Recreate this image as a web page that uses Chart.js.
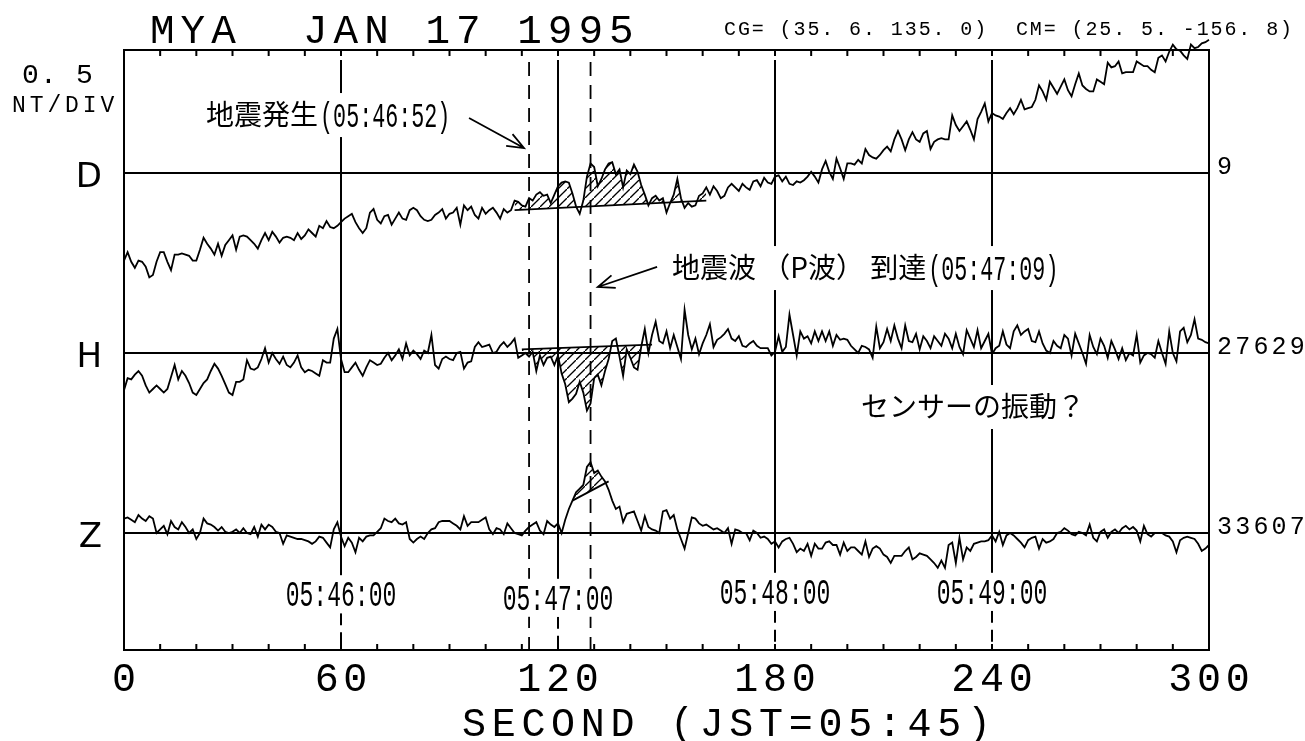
<!DOCTYPE html>
<html lang="ja">
<head>
<meta charset="utf-8">
<title>MYA JAN 17 1995</title>
<script src="https://cdn.jsdelivr.net/npm/chart.js@4.4.1/dist/chart.umd.min.js"></script>
<style>
  html, body { margin: 0; padding: 0; background: #fff; }
  .box { width: 1305px; height: 741px; }
</style>
</head>
<body>
<div class="box"><canvas id="magChart"></canvas></div>
<script>
// deviation from each trace's baseline in nT, one sample per second from 05:45:00 (t = 0..300)
const dD = [
  -0.73,-0.66,-0.74,-0.79,-0.73,-0.74,-0.78,-0.87,-0.85,-0.74,
  -0.66,-0.66,-0.74,-0.81,-0.68,-0.68,-0.67,-0.68,-0.69,-0.73,
  -0.73,-0.64,-0.54,-0.59,-0.63,-0.68,-0.59,-0.69,-0.60,-0.56,
  -0.52,-0.64,-0.53,-0.52,-0.53,-0.56,-0.59,-0.63,-0.56,-0.50,
  -0.56,-0.49,-0.53,-0.58,-0.54,-0.53,-0.54,-0.56,-0.50,-0.55,
  -0.52,-0.47,-0.50,-0.53,-0.44,-0.46,-0.40,-0.45,-0.46,-0.44,
  -0.41,-0.38,-0.36,-0.34,-0.41,-0.46,-0.50,-0.46,-0.33,-0.30,
  -0.39,-0.42,-0.36,-0.35,-0.43,-0.38,-0.33,-0.38,-0.39,-0.31,
  -0.29,-0.31,-0.36,-0.39,-0.40,-0.39,-0.35,-0.33,-0.30,-0.38,
  -0.34,-0.33,-0.29,-0.43,-0.27,-0.31,-0.28,-0.35,-0.38,-0.29,
  -0.34,-0.31,-0.29,-0.33,-0.38,-0.30,-0.33,-0.31,-0.23,-0.24,
  -0.27,-0.28,-0.21,-0.23,-0.18,-0.16,-0.19,-0.18,-0.25,-0.18,
  -0.11,-0.08,-0.07,-0.08,-0.17,-0.28,-0.34,-0.23,-0.03,0.08,
  0.05,-0.11,-0.05,0.03,0.08,0.09,-0.01,0.03,-0.12,0.02,
  -0.01,0.07,0.01,-0.10,-0.18,-0.27,-0.21,-0.19,-0.23,-0.21,
  -0.33,-0.25,-0.18,-0.05,-0.21,-0.29,-0.25,-0.28,-0.27,-0.19,
  -0.17,-0.12,-0.18,-0.11,-0.15,-0.21,-0.19,-0.12,-0.09,-0.12,
  -0.15,-0.09,-0.12,-0.14,-0.07,-0.06,-0.11,-0.04,-0.08,-0.09,
  -0.03,-0.02,-0.07,-0.03,-0.09,-0.10,-0.07,-0.08,-0.06,-0.03,
  0.01,-0.03,-0.08,0.03,0.10,0.01,-0.05,0.12,0.04,-0.05,
  0.08,0.08,0.07,0.11,0.08,0.20,0.15,0.13,0.12,0.15,
  0.19,0.22,0.18,0.28,0.35,0.28,0.19,0.28,0.34,0.28,
  0.26,0.33,0.35,0.20,0.26,0.28,0.29,0.28,0.28,0.48,
  0.40,0.35,0.39,0.43,0.36,0.28,0.45,0.51,0.58,0.43,
  0.50,0.48,0.47,0.45,0.50,0.54,0.49,0.54,0.61,0.53,
  0.54,0.55,0.61,0.73,0.68,0.61,0.76,0.71,0.66,0.72,
  0.78,0.69,0.64,0.74,0.83,0.73,0.70,0.68,0.68,0.78,
  0.76,0.74,0.92,0.88,0.89,0.93,0.83,0.84,0.84,0.84,
  0.93,0.91,0.89,0.89,0.86,0.84,0.96,0.98,0.93,1.01,
  1.07,1.03,1.02,0.98,0.95,1.07,1.04,1.05,1.08,1.09,
  1.11
];
const dH = [
  -0.31,-0.21,-0.22,-0.18,-0.15,-0.19,-0.27,-0.33,-0.30,-0.27,
  -0.30,-0.33,-0.30,-0.20,-0.10,-0.22,-0.15,-0.19,-0.25,-0.33,
  -0.35,-0.30,-0.25,-0.22,-0.15,-0.09,-0.13,-0.19,-0.26,-0.33,
  -0.35,-0.24,-0.24,-0.22,-0.06,-0.13,-0.14,-0.12,-0.05,0.04,
  -0.08,0.00,-0.05,-0.09,-0.03,-0.10,-0.12,-0.08,-0.02,-0.12,
  -0.16,-0.14,-0.15,-0.17,-0.19,-0.06,-0.08,-0.08,0.12,0.20,
  -0.05,-0.16,-0.16,-0.12,-0.08,-0.14,-0.19,-0.12,-0.06,-0.08,
  -0.10,-0.09,-0.04,0.00,-0.06,-0.02,0.03,-0.05,0.08,-0.02,
  0.02,-0.01,-0.05,0.02,0.00,0.15,-0.10,-0.13,-0.05,-0.03,
  -0.05,-0.06,0.00,0.01,-0.13,-0.08,-0.07,0.05,0.09,0.05,
  0.06,0.07,0.00,0.01,0.06,0.09,0.05,0.08,0.12,-0.04,
  -0.02,0.00,-0.03,0.01,-0.15,-0.02,-0.10,-0.04,-0.03,-0.10,
  -0.02,-0.17,-0.26,-0.41,-0.38,-0.34,-0.24,-0.33,-0.48,-0.42,
  -0.21,-0.18,-0.27,-0.15,-0.05,0.10,0.12,-0.03,-0.19,0.03,
  -0.04,-0.12,-0.14,0.05,0.20,0.00,0.15,0.26,0.10,0.08,
  0.18,0.04,0.15,0.05,-0.05,0.36,0.15,0.03,0.12,-0.01,
  0.08,0.15,0.24,0.05,0.11,0.13,0.16,0.20,0.12,0.10,
  0.14,0.06,0.05,0.08,0.10,0.06,0.04,0.04,0.04,-0.02,
  0.01,0.14,0.01,0.05,0.32,0.15,-0.02,0.18,0.12,0.14,
  0.08,0.18,0.10,0.18,0.10,0.18,0.06,0.15,0.11,0.12,
  0.11,0.06,0.03,0.00,0.06,0.05,0.03,-0.04,0.22,0.04,
  0.09,0.20,0.10,0.23,0.12,0.04,0.23,0.10,0.09,0.16,
  0.03,0.14,0.10,0.04,0.14,0.10,0.06,0.16,0.12,0.04,
  0.16,0.05,-0.01,0.19,0.12,0.05,0.19,0.04,0.10,0.16,
  -0.01,0.04,0.06,0.18,0.07,0.04,0.18,0.23,0.15,0.18,
  0.20,0.10,0.09,0.18,0.08,0.02,0.00,0.10,0.06,0.04,
  0.15,0.12,-0.02,0.16,0.08,0.00,-0.09,0.15,0.05,-0.01,
  0.12,0.06,-0.04,0.10,0.03,-0.05,0.04,-0.06,0.00,-0.02,
  0.15,-0.08,-0.02,0.00,-0.01,-0.04,0.10,0.00,-0.09,0.18,
  0.00,-0.07,0.18,0.21,0.09,0.15,0.28,0.12,0.11,0.09,
  0.08
];
const dZ = [
  0.12,0.13,0.11,0.09,0.15,0.12,0.10,0.14,0.12,0.00,
  0.03,0.06,-0.01,0.10,0.05,0.03,0.09,0.05,0.00,0.03,
  -0.05,0.00,0.12,0.08,0.07,0.05,0.02,0.05,0.01,0.00,
  0.01,0.03,0.00,0.04,0.00,-0.01,0.05,-0.03,0.07,0.03,
  0.07,0.05,0.01,0.00,-0.09,-0.02,-0.03,-0.04,-0.05,-0.05,
  -0.06,-0.07,-0.09,-0.07,-0.03,-0.04,-0.08,-0.12,0.03,0.09,
  -0.03,-0.11,-0.04,-0.08,-0.16,-0.04,-0.07,-0.03,-0.02,-0.02,
  0.01,0.04,0.12,0.10,0.09,0.12,0.08,0.07,0.09,-0.05,
  -0.08,-0.05,-0.03,-0.05,0.00,0.03,0.04,0.09,0.10,0.10,
  0.10,0.08,0.06,0.03,0.14,0.06,0.09,0.09,0.09,0.11,
  0.13,0.03,-0.01,0.04,0.03,-0.01,0.08,0.04,0.00,-0.01,
  -0.02,0.02,0.05,0.07,0.09,0.02,-0.01,0.10,0.07,0.05,
  0.08,0.00,0.11,0.20,0.27,0.34,0.37,0.40,0.55,0.59,
  0.50,0.52,0.47,0.43,0.36,0.27,0.20,0.22,0.09,0.16,
  0.17,0.18,0.10,0.02,0.14,0.05,0.03,0.02,0.00,0.18,
  0.19,0.12,0.15,0.03,-0.05,-0.13,0.00,0.13,0.12,0.08,
  0.06,0.07,0.05,0.03,0.04,0.02,0.00,0.04,-0.09,0.03,
  0.02,0.00,0.00,-0.06,0.02,0.00,-0.04,-0.03,-0.05,-0.09,
  -0.07,-0.12,-0.07,-0.05,-0.04,-0.09,-0.16,-0.13,-0.15,-0.09,
  -0.19,-0.09,-0.13,-0.13,-0.08,-0.07,-0.10,-0.10,-0.18,-0.08,
  -0.15,-0.12,-0.12,-0.15,-0.18,-0.07,-0.20,-0.13,-0.11,-0.13,
  -0.18,-0.20,-0.25,-0.19,-0.19,-0.19,-0.15,-0.12,-0.22,-0.20,
  -0.17,-0.18,-0.19,-0.22,-0.25,-0.29,-0.23,-0.29,-0.10,-0.08,
  -0.25,-0.04,-0.22,-0.12,-0.15,-0.09,-0.08,-0.07,-0.07,-0.06,
  -0.02,-0.07,0.01,-0.10,-0.02,0.00,-0.02,-0.05,-0.08,-0.12,
  -0.06,-0.04,-0.03,-0.13,-0.05,-0.08,-0.07,-0.05,0.00,0.01,
  0.04,0.02,-0.01,-0.02,0.01,0.00,-0.02,0.07,-0.04,-0.07,
  0.01,0.03,-0.04,0.01,0.03,0.00,0.04,0.06,0.03,0.05,
  0.02,-0.07,0.06,-0.01,-0.03,0.00,0.00,0.00,-0.02,-0.03,
  -0.07,-0.16,-0.06,-0.04,-0.03,-0.04,-0.05,-0.09,-0.15,-0.13,
  -0.10
];

const components = ['D', 'H', 'Z'];
const baseOffsets = [3.0, 1.5, 0];          // 0.5 nT/div, traces 3 div apart
const baseValues = ['9', '27629', '33607'];

const hourLabels = ['05:46:00', '05:47:00', '05:48:00', '05:49:00'];
const hourLabelY = [-0.51, -0.54, -0.49, -0.49];
const eventTimes = [112, 129];              // 05:46:52 quake, 05:47:09 P wave

// reference segments for the hatched areas: [t, nT deviation]
const dHatch = [[108, -0.31], [161, -0.23]];
const hHatch = [[110, 0.03], [146, 0.07]];
const zHatch = [[124, 0.27], [134, 0.43]];

const notes = [
  { t: 22.7, v: 3.483, parts: ['地震発生', '(05:46:52)'] },
  { t: 151.5, v: 2.208, parts: ['地震波 （P波） 到達', '(05:47:09)'] },
  { t: 203.8, v: 1.05, parts: ['センサーの振動？'] }
];
const arrows = [
  { from: [95.4, 3.458], to: [110.6, 3.208] },
  { from: [147.4, 2.217], to: [131, 2.05] }
];

const MONO = '"Liberation Mono", "DejaVu Sans Mono", monospace';
const JP = '"Noto Sans CJK JP", "Noto Sans CJK SC", sans-serif';

const canvas = document.getElementById('magChart');
const ctx = canvas.getContext('2d');

function makeHatch() {
  const c = document.createElement('canvas');
  c.width = c.height = 9;
  const g = c.getContext('2d');
  g.strokeStyle = '#000';
  g.lineWidth = 1.3;
  g.beginPath();
  g.moveTo(-1, 10);
  g.lineTo(10, -1);
  g.stroke();
  return ctx.createPattern(c, 'repeat');
}
const hatch = makeHatch();
const clear = 'rgba(0,0,0,0)';

const series = [dD, dH, dZ];
const toPoints = (arr, off, from = 0) => arr.map((v, i) => ({ x: from + i, y: v + off }));

const datasets = series.map((arr, k) => ({
  label: components[k],
  data: toPoints(arr, baseOffsets[k]),
  borderColor: '#000',
  borderWidth: 1.8,
  pointRadius: 0,
  tension: 0,
  fill: false,
  clip: false
}));

[[0, dHatch, 'above'], [1, hHatch, 'below'], [2, zHatch, 'above']].forEach(([k, seg, side]) => {
  const off = baseOffsets[k];
  const lineIndex = datasets.length;
  datasets.push({
    label: components[k] + ' ref',
    data: seg.map(p => ({ x: p[0], y: p[1] + off })),
    borderColor: '#000',
    borderWidth: 1.8,
    pointRadius: 0,
    fill: false
  });
  const t0 = seg[0][0], t1 = seg[1][0];
  datasets.push({
    label: components[k] + ' hatch',
    data: toPoints(series[k].slice(t0, t1 + 1), off, t0),
    borderWidth: 0,
    pointRadius: 0,
    fill: {
      target: lineIndex,
      above: side === 'above' ? hatch : clear,
      below: side === 'below' ? hatch : clear
    }
  });
});

function textWidth(c, str, o) {
  c.save();
  c.font = `${o.size}px ${o.family || MONO}`;
  c.letterSpacing = '0px';
  const w = (c.measureText(str).width + (o.sp || 0) * (str.length - 1)) * (o.sx || 1);
  c.restore();
  return w;
}

function label(c, str, x, y, o) {
  const w = textWidth(c, str, o);
  let left = x;
  if (o.align === 'center') left -= w / 2;
  else if (o.align === 'right') left -= w;
  c.save();
  if (o.bg) {
    c.fillStyle = '#fff';
    c.fillRect(left - 5, y - o.bg, w + 10, 2 * o.bg);
  }
  c.font = `${o.size}px ${o.family || MONO}`;
  c.letterSpacing = (o.sp || 0) + 'px';
  c.textAlign = 'left';
  c.textBaseline = 'alphabetic';
  c.translate(left, y + o.size * (o.mid || 0.33));
  c.scale(o.sx || 1, 1);
  c.fillStyle = '#000';
  c.fillText(str, 0, 0);
  c.restore();
  return left + w;
}

function arrow(c, x1, y1, x2, y2) {
  const a = Math.atan2(y2 - y1, x2 - x1), L = 18, s = 0.38;
  c.beginPath();
  c.moveTo(x1, y1);
  c.lineTo(x2, y2);
  c.moveTo(x2 - L * Math.cos(a - s), y2 - L * Math.sin(a - s));
  c.lineTo(x2, y2);
  c.lineTo(x2 - L * Math.cos(a + s), y2 - L * Math.sin(a + s));
  c.stroke();
}

const paper = {
  id: 'paper',
  beforeDatasetsDraw(chart) {
    const { ctx: c, chartArea: a, scales: { x, y } } = chart;
    c.save();
    c.strokeStyle = '#000';
    c.lineWidth = 2;
    c.strokeRect(a.left, a.top, a.width, a.height);

    // inward tick marks: every 10 s along x, every 0.5 nT along y
    c.beginPath();
    for (let t = x.min; t <= x.max; t += 10) {
      const px = x.getPixelForValue(t);
      c.moveTo(px, a.top); c.lineTo(px, a.top + 6);
      c.moveTo(px, a.bottom); c.lineTo(px, a.bottom - 6);
    }
    y.ticks.forEach(tk => {
      if (Math.abs(tk.value * 2 - Math.round(tk.value * 2)) > 1e-6) return;
      const py = y.getPixelForValue(tk.value);
      if (py < a.top + 6 || py > a.bottom - 6) return;
      c.moveTo(a.left, py); c.lineTo(a.left + 8, py);
      c.moveTo(a.right, py); c.lineTo(a.right - 8, py);
    });
    c.stroke();

    // baselines
    c.beginPath();
    baseOffsets.forEach(v => {
      const py = y.getPixelForValue(v);
      c.moveTo(a.left, py); c.lineTo(a.right, py);
    });
    c.stroke();

    // minute lines: solid above the time label, dashed below it
    x.ticks.filter(tk => tk.value > x.min && tk.value < x.max).forEach((tk, i) => {
      const px = x.getPixelForValue(tk.value);
      const ly = y.getPixelForValue(hourLabelY[i]);
      c.setLineDash([]);
      c.beginPath(); c.moveTo(px, a.top + 10); c.lineTo(px, ly); c.stroke();
      c.setLineDash([12, 7]);
      c.beginPath(); c.moveTo(px, ly); c.lineTo(px, a.bottom); c.stroke();
    });

    // quake / P-wave markers
    c.lineWidth = 1.8;
    c.setLineDash([14, 9]);
    eventTimes.forEach(t => {
      const px = x.getPixelForValue(t);
      c.beginPath(); c.moveTo(px, a.top + 12); c.lineTo(px, a.bottom); c.stroke();
    });
    c.restore();
  },
  afterDraw(chart) {
    const { ctx: c, chartArea: a, scales: { x, y } } = chart;

    label(c, 'MYA  JAN 17 1995', 150, 29, { size: 41, sp: 6 });
    label(c, 'CG= (35. 6. 135. 0)  CM= (25. 5. -156. 8)', 724, 28, { size: 20, sp: 1.9 });
    label(c, '0. 5', 22, 74, { size: 28, sp: 1.2 });
    label(c, 'NT/DIV', 12, 104, { size: 23, sp: 3.9 });

    components.forEach((name, k) => {
      const py = y.getPixelForValue(baseOffsets[k]);
      label(c, name, 102, py + 2, { size: 34, family: '"DejaVu Sans", sans-serif', align: 'right', mid: 0.36 });
      label(c, baseValues[k], a.right + 8, py - 7, { size: 25, sp: 3.2 });
    });

    x.ticks.forEach(tk => {
      label(c, String(tk.value), x.getPixelForValue(tk.value), 678, { size: 40, sp: 4.7, align: 'center' });
    });
    label(c, 'SECOND (JST=05:45)', 462, 723, { size: 40, sp: 5.7 });

    x.ticks.filter(tk => tk.value > x.min && tk.value < x.max).forEach((tk, i) => {
      label(c, hourLabels[i], x.getPixelForValue(tk.value), y.getPixelForValue(hourLabelY[i]),
        { size: 36, sx: 0.64, align: 'center', bg: 19 });
    });

    const jp = { size: 28, family: JP, mid: 0.36 };
    const num = { size: 35, sx: 0.62 };
    notes.forEach(n => {
      const px = x.getPixelForValue(n.t), py = y.getPixelForValue(n.v);
      const widths = n.parts.map((p, i) => textWidth(c, p, i === 0 ? jp : num));
      const total = widths.reduce((s, w) => s + w + 2, 0);
      c.save();
      c.fillStyle = '#fff';
      c.fillRect(px - 6, py - 22, total + 12, 44);
      c.restore();
      let cx = px;
      n.parts.forEach((p, i) => { cx = label(c, p, cx, py, i === 0 ? jp : num) + 2; });
    });

    c.save();
    c.strokeStyle = '#000';
    c.lineWidth = 1.8;
    arrows.forEach(ar => {
      arrow(c, x.getPixelForValue(ar.from[0]), y.getPixelForValue(ar.from[1]),
        x.getPixelForValue(ar.to[0]), y.getPixelForValue(ar.to[1]));
    });
    c.restore();
  }
};

new Chart(ctx, {
  type: 'line',
  data: { datasets },
  options: {
    responsive: true,
    maintainAspectRatio: false,
    animation: false,
    devicePixelRatio: 1,
    layout: { padding: { top: 50, right: 96, left: 0, bottom: 0 } },
    plugins: {
      legend: { display: false },
      tooltip: { enabled: false }
    },
    scales: {
      x: {
        type: 'linear',
        min: 0,
        max: 300,
        ticks: { stepSize: 60, display: false },
        grid: { display: false },
        border: { display: false },
        afterFit: s => { s.height = 91; }
      },
      y: {
        min: -0.975,
        max: 4.025,
        ticks: { stepSize: 0.5, display: false },
        grid: { display: false },
        border: { display: false },
        afterFit: s => { s.width = 124; }
      }
    }
  },
  plugins: [paper]
});
</script>
</body>
</html>
